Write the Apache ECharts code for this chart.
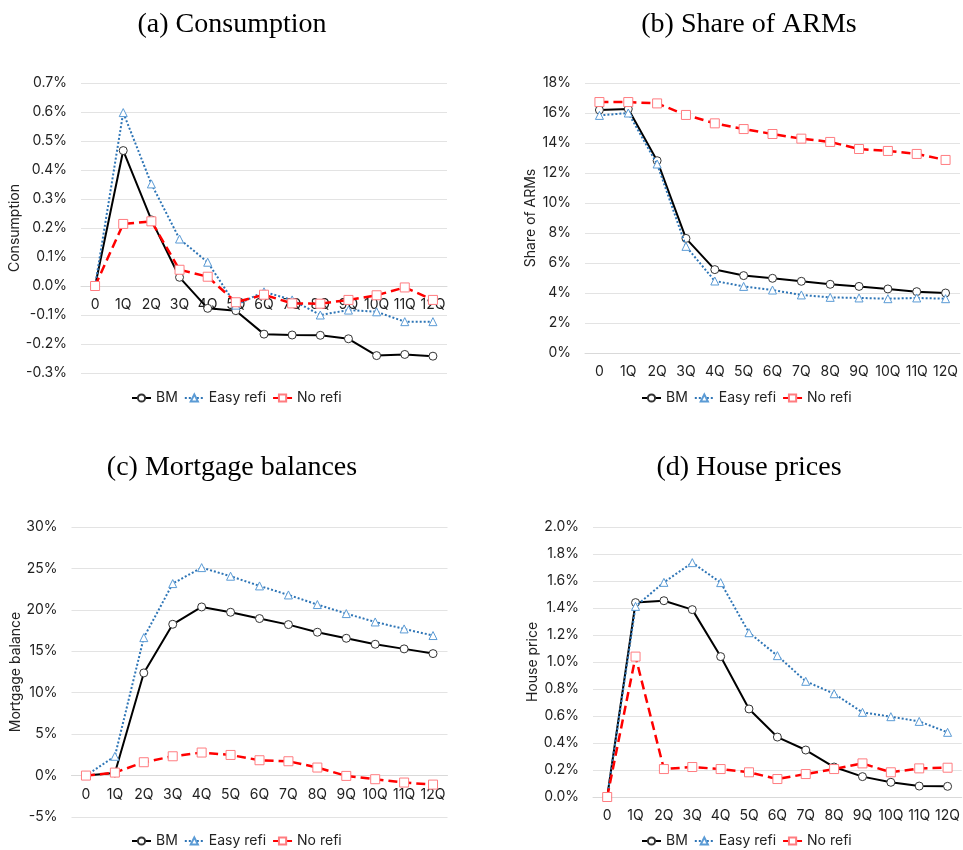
<!DOCTYPE html>
<html><head><meta charset="utf-8">
<script src="https://cdn.jsdelivr.net/npm/echarts@6/dist/echarts.min.js"></script>
<style>html,body{margin:0;padding:0;background:#fff}#c{width:963px;height:850px}</style>
</head><body><div id="c"></div>
<script>
var categories = ['0','1Q','2Q','3Q','4Q','5Q','6Q','7Q','8Q','9Q','10Q','11Q','12Q'];
var seriesNames = ['BM','Easy refi','No refi'];
var panelTitles = ['(a) Consumption','(b) Share of ARMs','(c) Mortgage balances','(d) House prices'];
var axisNames = ['Consumption','Share of ARMs','Mortgage balance','House price'];

// values in percent
var consBM   = [0, 0.467, 0.228, 0.030, -0.077, -0.085, -0.166, -0.169, -0.170, -0.182, -0.240, -0.236, -0.242];
var consEasy = [0, 0.598, 0.352, 0.162, 0.082, -0.066, -0.020, -0.048, -0.100, -0.083, -0.089, -0.123, -0.123];
var consNo   = [0, 0.214, 0.223, 0.056, 0.032, -0.056, -0.030, -0.060, -0.061, -0.048, -0.032, -0.005, -0.048];

var armBM    = [16.2, 16.27, 12.82, 7.64, 5.56, 5.16, 4.98, 4.78, 4.58, 4.44, 4.27, 4.09, 4.0];
var armEasy  = [15.84, 16.0, 12.6, 7.11, 4.8, 4.44, 4.2, 3.87, 3.71, 3.67, 3.62, 3.67, 3.62];
var armNo    = [16.73, 16.73, 16.64, 15.87, 15.31, 14.93, 14.6, 14.29, 14.07, 13.6, 13.47, 13.27, 12.87];

var mortBM   = [0, 0.32, 12.39, 18.26, 20.35, 19.71, 18.95, 18.22, 17.3, 16.57, 15.85, 15.29, 14.72];
var mortEasy = [0, 2.33, 16.65, 23.17, 25.1, 24.06, 22.89, 21.8, 20.64, 19.55, 18.54, 17.7, 16.9];
var mortNo   = [0, 0.36, 1.61, 2.33, 2.78, 2.49, 1.85, 1.73, 0.97, -0.04, -0.44, -0.84, -1.09];

var hpBM     = [0, 1.44, 1.454, 1.388, 1.04, 0.652, 0.444, 0.348, 0.222, 0.151, 0.109, 0.081, 0.079];
var hpEasy   = [0, 1.412, 1.59, 1.736, 1.588, 1.217, 1.047, 0.857, 0.765, 0.627, 0.595, 0.56, 0.479];
var hpNo     = [0, 1.04, 0.207, 0.222, 0.207, 0.183, 0.133, 0.17, 0.207, 0.249, 0.183, 0.212, 0.217];

var yMin = [-0.3, 0, -5, 0];
var yMax = [0.7, 18, 30, 2.0];
var yInterval = [0.1, 2, 5, 0.2];
var yDecimals = [1, 0, 0, 1];

var panelData = [
  [consBM, consEasy, consNo],
  [armBM, armEasy, armNo],
  [mortBM, mortEasy, mortNo],
  [hpBM, hpEasy, hpNo]
];

var grids = [
  {left: 81, top: 83, width: 366, height: 290},
  {left: 585, top: 83, width: 375, height: 270},
  {left: 71.5, top: 527, width: 376, height: 290},
  {left: 593, top: 527, width: 370, height: 270}
];
var nameGaps = [52, 47, 43, 49];
var titlePos = [[227, 6], [744, 6], [227, 449], [744, 449]];
var legendPos = [[126, 386], [636, 386], [126, 829], [636, 829]];

var styles = [
  {color: '#000000', type: 'solid', width: 2, symbol: 'circle', border: '#333333', size: 8},
  {color: '#2E75B6', type: 'dotted', width: 2, symbol: 'triangle', border: '#5B9BD5', size: 8},
  {color: '#FF0000', type: [9, 5], width: 2.5, symbol: 'rect', border: '#FF7C80', size: 9}
];

var option = {
  animation: false,
  backgroundColor: '#fff',
  title: [], grid: [], xAxis: [], yAxis: [], legend: [], series: []
};

for (var p = 0; p < 4; p++) {
  // place the category axis at the value-axis zero
  var zeroOffset = -(0 - yMin[p]) / (yMax[p] - yMin[p]) * grids[p].height;
  option.title.push({
    text: panelTitles[p], left: titlePos[p][0], top: titlePos[p][1], textAlign: 'center',
    textStyle: {fontFamily: 'Liberation Serif', fontSize: 28, fontWeight: 'normal', color: '#000'}
  });
  option.grid.push(grids[p]);
  option.xAxis.push({
    type: 'category', gridIndex: p, data: categories, boundaryGap: true,
    position: 'bottom', offset: zeroOffset,
    axisLine: {show: true, onZero: false, lineStyle: {color: '#d9d9d9', width: 1}},
    axisTick: {show: false},
    axisLabel: {color: '#222', fontSize: 14, margin: 12, interval: 0, fontFamily: 'Inter'},
    splitLine: {show: false}
  });
  (function (dec) {
    option.yAxis.push({
      type: 'value', gridIndex: p, min: yMin[p], max: yMax[p], interval: yInterval[p],
      name: axisNames[p], nameLocation: 'middle', nameGap: nameGaps[p],
      nameTextStyle: {color: '#222', fontSize: 14, fontFamily: 'Inter'},
      axisLine: {show: false}, axisTick: {show: false},
      axisLabel: {color: '#222', fontSize: 14, margin: 14, fontFamily: 'Inter',
        formatter: function (v) { return v.toFixed(dec) + '%'; }},
      splitLine: {lineStyle: {color: '#e3e3e3', width: 1}}
    });
  })(yDecimals[p]);
  option.legend.push({
    data: seriesNames, left: legendPos[p][0], top: legendPos[p][1],
    itemWidth: 19, itemHeight: 9, itemGap: 6,
    textStyle: {color: '#222', fontSize: 14, fontFamily: 'Inter'}
  });
  for (var s = 0; s < 3; s++) {
    var st = styles[s];
    option.series.push({
      name: seriesNames[s], type: 'line', xAxisIndex: p, yAxisIndex: p,
      data: panelData[p][s],
      symbol: st.symbol, symbolSize: st.size, showAllSymbol: true,
      lineStyle: {color: st.color, type: st.type, width: st.width},
      itemStyle: {color: '#ffffff', borderColor: st.border, borderWidth: 1},
      color: st.color,
      z: 2 + s
    });
  }
}

var chart = echarts.init(document.getElementById('c'), null, {renderer: 'canvas'});
chart.setOption(option);
</script></body></html>
